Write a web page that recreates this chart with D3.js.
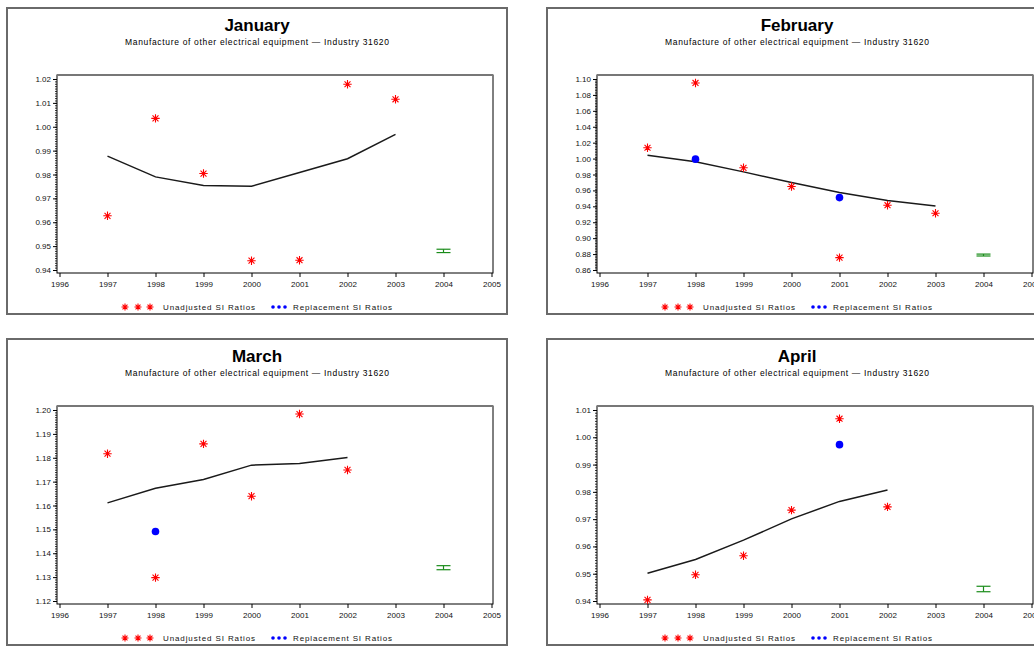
<!DOCTYPE html>
<html><head><meta charset="utf-8">
<script src="https://cdn.jsdelivr.net/npm/d3@7"></script>
<style>
html,body{margin:0;padding:0;background:#fff;}
svg{display:block;font-family:"Liberation Sans",Arial,sans-serif;}
</style></head>
<body>
<svg id="c" width="1034" height="646"></svg>
<script>
// ---------- data ----------
const months = ["January", "February", "March", "April"];
const subtitle = "Manufacture of other electrical equipment — Industry 31620";
const years = [1997, 1998, 1999, 2000, 2001, 2002, 2003];
const xTicks = [1996, 1997, 1998, 1999, 2000, 2001, 2002, 2003, 2004, 2005];

// Unadjusted SI ratios (red stars)
const janUnadj = [0.9627, 1.0035, 0.9804, 0.9439, 0.9441, 1.0178, 1.0115];
const febUnadj = [1.0136, 1.0950, 0.9884, 0.9649, 0.8755, 0.9414, 0.9313];
const marUnadj = [1.1817, 1.1298, 1.1858, 1.1639, 1.1983, 1.1749];
const aprUnadj = [0.9404, 0.9496, 0.9566, 0.9733, 1.0068, 0.9745];

// Trend line
const janTrend = [0.9877, 0.9790, 0.9754, 0.9751, 0.9808, 0.9866, 0.9968];
const febTrend = [1.0043, 0.9959, 0.9833, 0.9699, 0.9573, 0.9472, 0.9405];
const marTrend = [1.1611, 1.1672, 1.1709, 1.1769, 1.1776, 1.1801];
const aprTrend = [0.9502, 0.9552, 0.9623, 0.9701, 0.9765, 0.9807];

// Replacement SI ratios (blue dots)
const janReplYears = [];            const janRepl = [];
const febReplYears = [1998, 2001];  const febRepl = [0.9993, 0.9510];
const marReplYears = [1998];        const marRepl = [1.1491];
const aprReplYears = [2001];        const aprRepl = [0.9973];

// 2004 projected range (green bar): [low, high]
const janBar = [0.9473, 0.9487];
const febBar = [0.8776, 0.8800];
const marBar = [1.1331, 1.1348];
const aprBar = [0.9434, 0.9454];

// y axes
const janY = [0.94, 1.02], janYStep = 0.01;
const febY = [0.86, 1.10], febYStep = 0.02;
const marY = [1.12, 1.20], marYStep = 0.01;
const aprY = [0.94, 1.01], aprYStep = 0.01;

const legendLabels = ["Unadjusted SI Ratios", "Replacement SI Ratios"];

const panels = [
  {name: months[0], unadj: janUnadj, trend: janTrend, rY: janReplYears, r: janRepl, bar: janBar, dom: janY, step: janYStep},
  {name: months[1], unadj: febUnadj, trend: febTrend, rY: febReplYears, r: febRepl, bar: febBar, dom: febY, step: febYStep},
  {name: months[2], unadj: marUnadj, trend: marTrend, rY: marReplYears, r: marRepl, bar: marBar, dom: marY, step: marYStep},
  {name: months[3], unadj: aprUnadj, trend: aprTrend, rY: aprReplYears, r: aprRepl, bar: aprBar, dom: aprY, step: aprYStep}
];
const origins = [[7, 8], [547, 8], [7, 339], [547, 339]];

// ---------- drawing ----------
const svg = d3.select("#c");
const W = 500, H = 306;
const fL = 50, fR = 486, fT = 67, fB = 265;

function star(g, cx, cy, r, color) {
  const d = [];
  for (let k = 0; k < 4; k++) {
    const a = k * Math.PI / 4;
    const dx = r * Math.cos(a), dy = r * Math.sin(a);
    d.push(`M${cx - dx},${cy - dy}L${cx + dx},${cy + dy}`);
  }
  g.append("path").attr("d", d.join("")).attr("stroke", color).attr("stroke-width", 1.1).attr("fill", "none");
}

panels.forEach((p, i) => {
  const [ox, oy] = origins[i];
  const g = svg.append("g").attr("transform", `translate(${ox},${oy})`);

  g.append("rect").attr("x", 0).attr("y", 0).attr("width", W).attr("height", H)
    .attr("fill", "#fff").attr("stroke", "#6a6a6a").attr("stroke-width", 2);

  g.append("text").attr("x", W / 2).attr("y", 23).attr("text-anchor", "middle")
    .attr("font-size", 17).attr("font-weight", "bold").attr("fill", "#000").text(p.name);
  g.append("text").attr("x", W / 2).attr("y", 37).attr("text-anchor", "middle")
    .attr("font-size", 8.5).attr("textLength", 264).attr("lengthAdjust", "spacing")
    .attr("fill", "#000").text(subtitle);

  const x = d3.scaleLinear().domain([1996, 2005]).range([fL + 2.5, fR - 1.5]);
  const y = d3.scaleLinear().domain(p.dom).range([fB - 3, fT + 4]);

  // frame
  g.append("rect").attr("x", fL).attr("y", fT).attr("width", fR - fL).attr("height", fB - fT)
    .attr("fill", "none").attr("stroke", "#000").attr("stroke-width", 1);
  g.append("line").attr("x1", fL).attr("x2", fR).attr("y1", fT).attr("y2", fT)
    .attr("stroke", "#777").attr("stroke-width", 2);

  // x axis
  const xa = g.append("g").attr("transform", `translate(0,${fB})`)
    .call(d3.axisBottom(x).tickValues(xTicks).tickSize(4).tickPadding(4).tickFormat(d3.format("d")));
  xa.select(".domain").remove();
  xa.selectAll("text").attr("font-size", 8).attr("font-family", "Liberation Sans, Arial, sans-serif").attr("fill", "#111");
  xa.selectAll("line").attr("stroke", "#000");

  // y axis
  const n = Math.round((p.dom[1] - p.dom[0]) / p.step);
  const major = d3.range(n + 1).map(k => +(p.dom[0] + k * p.step).toFixed(4));
  const minor = d3.range(n * 10 + 1).map(k => p.dom[0] + k * p.step / 10);
  const ym = g.append("g").attr("transform", `translate(${fL},0)`)
    .call(d3.axisLeft(y).tickValues(minor).tickSize(2).tickFormat(""));
  ym.select(".domain").remove();
  ym.selectAll("line").attr("stroke", "#000").attr("stroke-width", 0.8);
  const ya = g.append("g").attr("transform", `translate(${fL},0)`)
    .call(d3.axisLeft(y).tickValues(major).tickSize(4).tickPadding(2).tickFormat(d3.format(".2f")));
  ya.select(".domain").remove();
  ya.selectAll("text").attr("font-size", 8).attr("font-family", "Liberation Sans, Arial, sans-serif").attr("fill", "#111");
  ya.selectAll("line").attr("stroke", "#000");

  // trend line
  const tr = p.trend.map((v, k) => [years[k], v]);
  g.append("path").datum(tr)
    .attr("d", d3.line().x(d => x(d[0])).y(d => y(d[1])))
    .attr("fill", "none").attr("stroke", "#1a1a1a").attr("stroke-width", 1.5);

  // green bar 2004
  const bx = x(2004);
  const bg = g.append("g").attr("stroke", "#1a8c1a").attr("stroke-width", 1.2);
  bg.append("line").attr("x1", bx - 7).attr("x2", bx + 7).attr("y1", y(p.bar[1])).attr("y2", y(p.bar[1]));
  bg.append("line").attr("x1", bx - 7).attr("x2", bx + 7).attr("y1", y(p.bar[0])).attr("y2", y(p.bar[0]));
  bg.append("line").attr("x1", bx).attr("x2", bx).attr("y1", y(p.bar[1])).attr("y2", y(p.bar[0]));

  // replacement dots
  p.r.forEach((v, k) => {
    g.append("circle").attr("cx", x(p.rY[k])).attr("cy", y(v)).attr("r", 3.8).attr("fill", "#0000ff");
  });

  // unadjusted stars
  p.unadj.forEach((v, k) => star(g, x(years[k]), y(v), 4.2, "#ff0000"));

  // legend
  const ly = 302;
  [118, 131, 143].forEach(lx => star(g, lx, ly - 3, 3.5, "#ff0000"));
  g.append("text").attr("x", 156).attr("y", ly).attr("font-size", 8).attr("textLength", 92)
    .attr("lengthAdjust", "spacing").attr("fill", "#111").text(legendLabels[0]);
  [266, 272, 278].forEach(lx => g.append("circle").attr("cx", lx).attr("cy", ly - 3).attr("r", 1.8).attr("fill", "#0000ff"));
  g.append("text").attr("x", 286).attr("y", ly).attr("font-size", 8).attr("textLength", 99)
    .attr("lengthAdjust", "spacing").attr("fill", "#111").text(legendLabels[1]);
});
</script>
</body></html>
